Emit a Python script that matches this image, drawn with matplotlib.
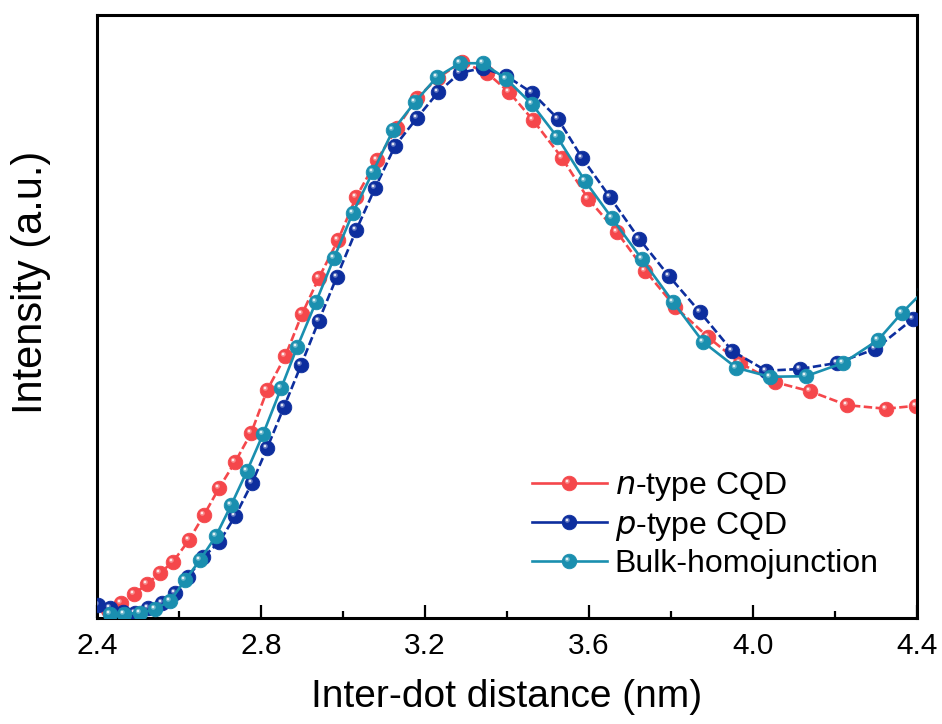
import matplotlib
matplotlib.use("Agg")
import matplotlib.pyplot as plt
from matplotlib.lines import Line2D
from matplotlib.path import Path
from matplotlib.legend_handler import HandlerTuple
import numpy as np

plt.rcParams['font.family'] = ['Liberation Sans', 'DejaVu Sans']

# ---- data ----
n_x = [2.427, 2.459, 2.490, 2.522, 2.554, 2.585, 2.624, 2.661, 2.698, 2.737,
       2.776, 2.815, 2.859, 2.900, 2.941, 2.988, 3.032, 3.083, 3.132, 3.180,
       3.232, 3.290, 3.351, 3.405, 3.463, 3.534, 3.598, 3.668, 3.737, 3.810,
       3.890, 3.968, 4.054, 4.139, 4.229, 4.324, 4.398]
n_y = [0.013, 0.025, 0.040, 0.056, 0.075, 0.093, 0.129, 0.171, 0.216, 0.259,
       0.307, 0.378, 0.434, 0.504, 0.564, 0.627, 0.698, 0.760, 0.813, 0.862,
       0.896, 0.922, 0.904, 0.872, 0.826, 0.763, 0.695, 0.640, 0.576, 0.516,
       0.466, 0.423, 0.391, 0.376, 0.353, 0.347, 0.352]

p_x = [2.402, 2.432, 2.463, 2.493, 2.524, 2.559, 2.590, 2.622, 2.659, 2.698,
       2.737, 2.778, 2.815, 2.856, 2.898, 2.941, 2.985, 3.032, 3.078, 3.127,
       3.180, 3.232, 3.285, 3.341, 3.398, 3.461, 3.524, 3.583, 3.651, 3.722,
       3.795, 3.871, 3.949, 4.032, 4.115, 4.205, 4.298, 4.390]
p_y = [0.022, 0.017, 0.010, 0.008, 0.017, 0.025, 0.041, 0.068, 0.101, 0.126,
       0.169, 0.224, 0.282, 0.350, 0.420, 0.493, 0.566, 0.643, 0.713, 0.783,
       0.829, 0.872, 0.904, 0.912, 0.899, 0.871, 0.828, 0.763, 0.698, 0.629,
       0.567, 0.507, 0.443, 0.410, 0.413, 0.423, 0.446, 0.496]

b_x = [2.432, 2.466, 2.505, 2.541, 2.578, 2.615, 2.651, 2.690, 2.727, 2.766,
       2.805, 2.849, 2.888, 2.934, 2.978, 3.024, 3.073, 3.122, 3.176, 3.229,
       3.285, 3.341, 3.398, 3.461, 3.522, 3.590, 3.656, 3.729, 3.805, 3.878,
       3.959, 4.041, 4.129, 4.220, 4.305, 4.363, 4.420]
b_y = [0.007, 0.007, 0.008, 0.015, 0.028, 0.063, 0.096, 0.136, 0.187, 0.244,
       0.305, 0.381, 0.449, 0.524, 0.597, 0.672, 0.740, 0.809, 0.856, 0.897,
       0.920, 0.920, 0.894, 0.852, 0.798, 0.725, 0.663, 0.595, 0.524, 0.458,
       0.415, 0.400, 0.401, 0.423, 0.461, 0.506, 0.545]

labels = ['$\\it{n}$-type CQD', '$\\it{p}$-type CQD', 'Bulk-homojunction']
colors = ['#F5474B', '#0D2E9E', '#1A8FAF']
x_ticks = [2.4, 2.8, 3.2, 3.6, 4.0, 4.4]

# ---- figure ----
fig = plt.figure(figsize=(9.42, 7.24), dpi=100)
ax = fig.add_axes([0.1030, 0.1464, 0.8705, 0.8329])

# highlight marker: small circle offset up-left, normalised with a dummy point
hc = Path.circle(center=(-0.30, 0.30), radius=0.34)
hl_path = Path(np.vstack([[[1.0, 1.0]], hc.vertices]),
               np.concatenate([[Path.MOVETO], hc.codes]))
hc2 = Path.circle(center=(-0.34, 0.34), radius=0.17)
hl_path2 = Path(np.vstack([[[1.0, 1.0]], hc2.vertices]),
                np.concatenate([[Path.MOVETO], hc2.codes]))

ms = 10.5
lw = 1.9
styles = [(0, (3.2, 1.3)), (0, (3.2, 1.3)), '-']
series = [(n_x, n_y), (p_x, p_y), (b_x, b_y)]
handles = []
for i, ((xs, ys), c, ls) in enumerate(zip(series, colors, styles)):
    ax.plot(xs, ys, color=c, lw=lw, ls=ls, marker='o', ms=ms,
            mfc=c, mec=c, mew=0.6, zorder=2 + i)
    ax.plot(xs, ys, ls='none', marker=hl_path, ms=ms, mfc='white',
            mec='none', alpha=0.35, zorder=2.4 + i)
    ax.plot(xs, ys, ls='none', marker=hl_path2, ms=ms, mfc='white',
            mec='none', alpha=0.85, zorder=2.5 + i)
    h1 = Line2D([], [], color=c, lw=lw, marker='o', ms=ms, mfc=c, mec=c, mew=0.6)
    h2 = Line2D([], [], ls='none', marker=hl_path, ms=ms, mfc='white',
                mec='none', alpha=0.35)
    h3 = Line2D([], [], ls='none', marker=hl_path2, ms=ms, mfc='white',
                mec='none', alpha=0.85)
    handles.append((h1, h2, h3))

ax.set_xlim(2.4, 4.4)
ax.set_ylim(0, 1)
ax.set_xticks(x_ticks)
ax.set_xticklabels([f'{t:.1f}' for t in x_ticks])
ax.set_xticks([2.6, 3.0, 3.4, 3.8, 4.2], minor=True)
ax.set_yticks([])
ax.tick_params(axis='x', which='major', direction='in', length=9.5, width=1.6,
               labelsize=21.5, pad=10)
ax.tick_params(axis='x', which='minor', direction='in', length=5, width=1.6)
ax.tick_params(axis='x', top=False)
for sp in ax.spines.values():
    sp.set_linewidth(2.2)

ax.set_xlabel('Inter-dot distance (nm)', fontsize=28, labelpad=14)
ax.set_ylabel('Intensity (a.u.)', fontsize=30)
ax.yaxis.set_label_coords(-0.056, 0.557)

leg = ax.legend(handles, labels,
                handler_map={tuple: HandlerTuple(ndivide=1, pad=0)},
                loc='upper left', bbox_to_anchor=(0.530, 0.245), frameon=False,
                fontsize=23, handlelength=2.35, handletextpad=0.25,
                labelspacing=0.2, borderpad=0, borderaxespad=0)

fig.savefig('out.png', dpi=100)
